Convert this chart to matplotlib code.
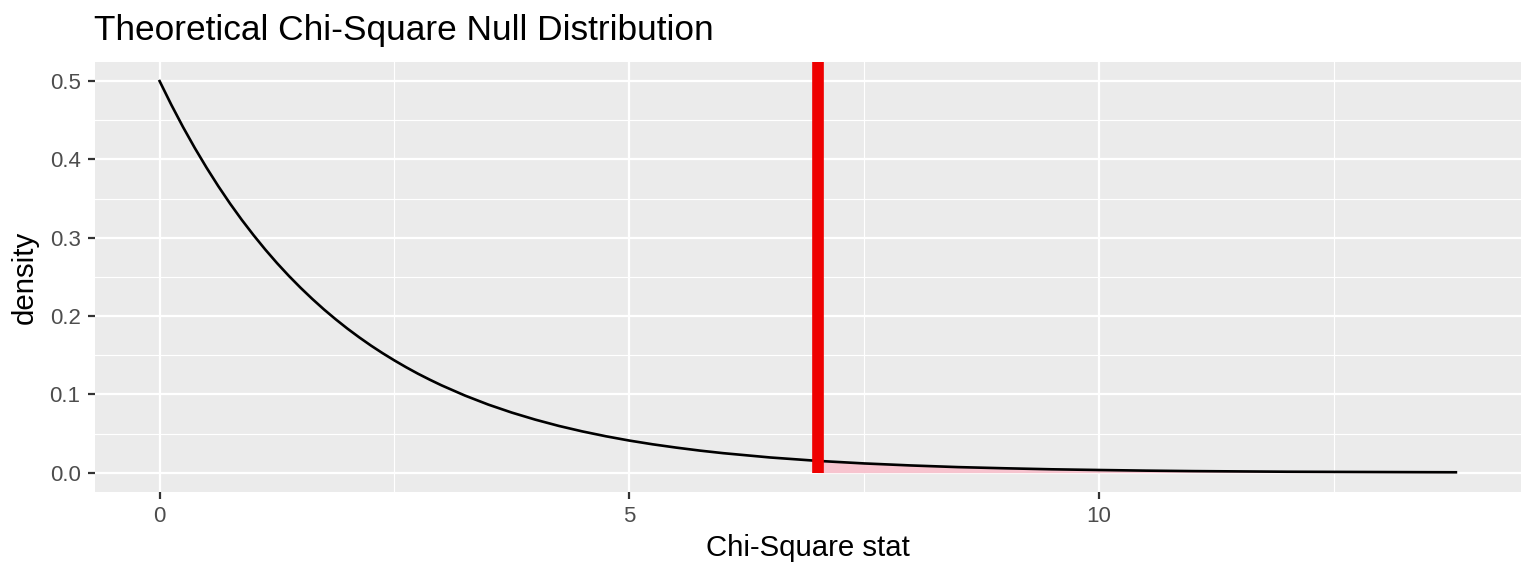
import numpy as np
import matplotlib
matplotlib.use("Agg")
import matplotlib.pyplot as plt
from matplotlib.ticker import FixedLocator

# ---- data ----
chisq_x = [0.0, 0.125, 0.25, 0.375, 0.5, 0.625, 0.75, 0.875, 1.0, 1.125,
           1.25, 1.375, 1.5, 1.625, 1.75, 1.875, 2.0, 2.125, 2.25, 2.375,
           2.5, 2.625, 2.75, 2.875, 3.0, 3.25, 3.5, 3.75, 4.0, 4.25, 4.5,
           4.75, 5.0, 5.25, 5.5, 5.75, 6.0, 6.5, 7.0, 7.5, 8.0, 8.5, 9.0,
           9.5, 10.0, 10.5, 11.0, 11.5, 12.0, 12.5, 13.0, 13.5, 13.8]
density = [0.5000, 0.4697, 0.4412, 0.4145, 0.3894, 0.3658, 0.3436, 0.3228,
           0.3033, 0.2849, 0.2676, 0.2514, 0.2362, 0.2219, 0.2084, 0.1958,
           0.1839, 0.1728, 0.1623, 0.1525, 0.1433, 0.1346, 0.1264, 0.1188,
           0.1116, 0.0985, 0.0869, 0.0767, 0.0677, 0.0597, 0.0527, 0.0465,
           0.0410, 0.0362, 0.0320, 0.0282, 0.0249, 0.0194, 0.0151, 0.0118,
           0.0092, 0.0071, 0.0056, 0.0043, 0.0034, 0.0026, 0.0020, 0.0016,
           0.0012, 0.0010, 0.0008, 0.0006, 0.0005]
obs_stat = 7.005
x_ticks = [0, 5, 10]
y_ticks = [0.0, 0.1, 0.2, 0.3, 0.4, 0.5]
y_tick_labels = ["0.0", "0.1", "0.2", "0.3", "0.4", "0.5"]
title = "Theoretical Chi-Square Null Distribution"
x_label = "Chi-Square stat"
y_label = "density"

plt.rcParams['font.family'] = ['Liberation Sans', 'DejaVu Sans']

fig = plt.figure(figsize=(15.36, 5.76), dpi=100)
ax = fig.add_axes([94.5 / 1536, (576 - 491.7) / 576, 1426.2 / 1536, 429.4 / 576])
ax.set_facecolor('#EBEBEB')
for s in ax.spines.values():
    s.set_visible(False)

xs = np.array(chisq_x)
ys = np.array(density)

ax.set_xlim(-0.693, 14.49)
ax.set_ylim(-0.0243, 0.524)

ax.xaxis.set_major_locator(FixedLocator(x_ticks))
ax.xaxis.set_minor_locator(FixedLocator([2.5, 7.5, 12.5]))
ax.yaxis.set_major_locator(FixedLocator(y_ticks))
ax.yaxis.set_minor_locator(FixedLocator([0.05, 0.15, 0.25, 0.35, 0.45]))
ax.grid(which='major', color='white', linewidth=1.6)
ax.grid(which='minor', color='white', linewidth=0.8)
ax.set_axisbelow(True)

ax.set_xticklabels([str(t) for t in x_ticks])
ax.set_yticklabels(y_tick_labels)
ax.tick_params(which='major', length=5, width=1.6, color='#333333',
               labelcolor='#4D4D4D', labelsize=16, pad=5)
ax.tick_params(which='minor', length=0)

# shaded tail
mask = xs >= 7.0
ax.fill_between(xs[mask], 0, ys[mask], color='#F7C4CF', linewidth=0, zorder=2)

# density curve
ax.plot(xs, ys, color='black', linewidth=1.9, zorder=3)

# observed statistic
ylo, yhi = ax.get_ylim()
ax.axvline(obs_stat, ymin=(0 - ylo) / (yhi - ylo), ymax=1, color='#EE0000',
           linewidth=8.4, solid_capstyle='butt', zorder=4)

ax.set_xlabel(x_label, fontsize=21.2, color='black', labelpad=5)
ax.set_ylabel(y_label, fontsize=21.2, color='black', labelpad=8)
ax.set_title(title, loc='left', fontsize=25.4, color='black', pad=16)

fig.savefig('out.png', dpi=100)
